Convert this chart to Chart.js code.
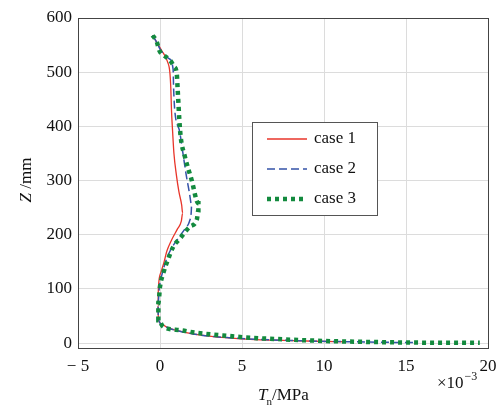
<!DOCTYPE html>
<html>
<head>
<meta charset="utf-8">
<script src="https://cdn.jsdelivr.net/npm/chart.js@4"></script>
<style>
  html, body { margin: 0; padding: 0; background: #fff; }
  #wrap { width: 500px; height: 409px; }
</style>
</head>
<body>
<div id="wrap"><canvas id="tnChart" width="500" height="409"></canvas></div>
<script>
// values (Tn in 1e-3 MPa, Z in mm)
const case1Z  = [568, 555, 540, 520, 500, 470, 430, 390, 350, 310, 280, 255, 240, 225, 210, 190, 170, 150, 130, 100, 70, 45, 35, 28, 22, 17, 13, 10, 7, 5, 3.5, 2.5];
const case1Tn = [-0.45, -0.2, 0.1, 0.45, 0.6, 0.66, 0.7, 0.77, 0.85, 1.0, 1.15, 1.32, 1.38, 1.3, 1.05, 0.7, 0.42, 0.25, 0.05, -0.1, -0.12, -0.1, 0.1, 0.5, 1.2, 2.0, 3.0, 4.0, 5.5, 7.5, 9.5, 11.3];

const case2Z  = [568, 555, 540, 525, 505, 470, 430, 390, 350, 310, 280, 255, 240, 225, 210, 195, 175, 155, 130, 100, 70, 45, 35, 28, 22, 17, 13, 10, 7, 5, 3.5, 2.5, 1.5, 1];
const case2Tn = [-0.45, -0.2, 0.05, 0.55, 0.8, 0.83, 0.9, 1.2, 1.4, 1.6, 1.78, 1.93, 1.9, 1.8, 1.5, 1.15, 0.7, 0.4, 0.15, -0.05, -0.12, -0.1, 0.1, 0.5, 1.2, 2.0, 3.0, 4.2, 5.8, 7.8, 9.8, 11.8, 13.8, 15.6];

const case3Z  = [568, 556, 540, 532, 522, 510, 498, 467, 412, 381, 344, 301, 258, 245, 227, 215, 193, 178, 156, 129, 104, 73, 42, 30, 24, 19, 13, 10, 7, 4, 2, 1, 0.5];
const case3Tn = [-0.45, -0.2, -0.04, 0.2, 0.61, 0.87, 1.02, 1.08, 1.18, 1.26, 1.52, 1.93, 2.34, 2.34, 2.24, 1.83, 1.22, 0.81, 0.51, 0.2, 0, -0.1, -0.1, 0.2, 1.22, 2.24, 4.27, 5.5, 7.5, 10, 13, 15.5, 19.5];

const xTicks = [-5, 0, 5, 10, 15, 20];
const yTicks = [0, 100, 200, 300, 400, 500, 600];
const caseNames = ['case 1', 'case 2', 'case 3'];

function pts(xs, zs) {
  return xs.map((x, i) => ({ x: x, y: zs[i] }));
}

const serif = '"Liberation Serif", "DejaVu Serif", serif';

const styles = [
  { color: '#e8352a', width: 1.3, dash: [] },
  { color: '#3553a8', width: 1.5, dash: [8, 4] },
  { color: '#138a3e', width: 4.5, dash: [4, 4] },
];

// box round the plot, legend, axis titles
const extras = {
  id: 'extras',
  afterDraw(chart) {
    const ctx = chart.ctx;
    const a = chart.chartArea;
    ctx.save();
    ctx.strokeStyle = '#444';
    ctx.lineWidth = 1;
    ctx.strokeRect(a.left + 0.5, a.top + 0.5, a.right - a.left, a.bottom - a.top);

    // legend
    ctx.fillStyle = '#fff';
    ctx.fillRect(252, 122, 125, 93);
    ctx.strokeStyle = '#555';
    ctx.strokeRect(252.5, 122.5, 125, 93);
    ctx.font = '17px ' + serif;
    ctx.textBaseline = 'middle';
    caseNames.forEach((name, i) => {
      const y = 139 + i * 30;
      const s = styles[i];
      ctx.beginPath();
      ctx.strokeStyle = s.color;
      ctx.lineWidth = s.width;
      ctx.setLineDash(s.dash);
      ctx.moveTo(267, y);
      ctx.lineTo(307, y);
      ctx.stroke();
      ctx.setLineDash([]);
      ctx.fillStyle = '#111';
      ctx.fillText(name, 314, y);
    });

    // y title
    ctx.fillStyle = '#111';
    ctx.save();
    ctx.translate(27, 180);
    ctx.rotate(-Math.PI / 2);
    ctx.textBaseline = 'middle';
    ctx.font = 'italic 17px ' + serif;
    const zw = ctx.measureText('Z ').width;
    ctx.font = '17px ' + serif;
    const rw = ctx.measureText('/mm').width;
    ctx.textAlign = 'left';
    let sx = -(zw + rw) / 2;
    ctx.font = 'italic 17px ' + serif;
    ctx.fillText('Z', sx, 0);
    ctx.font = '17px ' + serif;
    ctx.fillText('/mm', sx + zw, 0);
    ctx.restore();

    // x title
    ctx.textBaseline = 'alphabetic';
    ctx.textAlign = 'left';
    let x = 258;
    ctx.font = 'italic 17px ' + serif;
    ctx.fillText('T', x, 400);
    x += ctx.measureText('T').width - 1;
    ctx.font = '11px ' + serif;
    ctx.fillText('n', x, 405);
    x += ctx.measureText('n').width;
    ctx.font = '17px ' + serif;
    ctx.fillText('/MPa', x, 400);

    // exponent
    ctx.font = '17px ' + serif;
    ctx.fillText('\u00d710', 437, 388);
    const ew = ctx.measureText('\u00d710').width;
    ctx.font = '12px ' + serif;
    ctx.fillText('\u2212' + '3', 437 + ew + 1, 380);
    ctx.restore();
  }
};

new Chart(document.getElementById('tnChart'), {
  type: 'scatter',
  data: {
    datasets: [
      { label: caseNames[0], data: pts(case1Tn, case1Z), order: 3 },
      { label: caseNames[1], data: pts(case2Tn, case2Z), order: 2 },
      { label: caseNames[2], data: pts(case3Tn, case3Z), order: 1 },
    ].map((d, i) => Object.assign(d, {
      showLine: true,
      borderColor: styles[i].color,
      borderWidth: styles[i].width,
      borderDash: styles[i].dash,
      pointRadius: 0,
      tension: 0.4,
      cubicInterpolationMode: 'monotone',
      fill: false,
    })),
  },
  options: {
    responsive: false,
    animation: false,
    layout: { padding: { left: 0, right: 12, top: 18, bottom: 0 } },
    plugins: {
      legend: { display: false },
      tooltip: { enabled: false },
    },
    scales: {
      x: {
        type: 'linear',
        min: -5,
        max: 20,
        afterBuildTicks: (s) => { s.ticks = xTicks.map(v => ({ value: v })); },
        afterFit: (s) => { s.height = 61; s.paddingLeft = 0; s.paddingRight = 0; },
        grid: { color: '#dcdcdc', drawTicks: false },
        border: { display: false },
        ticks: {
          color: '#111',
          padding: 8,
          font: { family: serif, size: 17 },
          callback: (v) => (v < 0 ? '\u2212 ' + Math.abs(v) : String(v)),
        },
      },
      y: {
        type: 'linear',
        min: -9,
        max: 600,
        afterBuildTicks: (s) => { s.ticks = yTicks.map(v => ({ value: v })); },
        afterFit: (s) => { s.width = 78; s.paddingTop = 0; s.paddingBottom = 0; },
        grid: { color: '#dcdcdc', drawTicks: false },
        border: { display: false },
        ticks: {
          color: '#111',
          padding: 6,
          font: { family: serif, size: 17 },
        },
      },
    },
  },
  plugins: [extras],
});
</script>
</body>
</html>
